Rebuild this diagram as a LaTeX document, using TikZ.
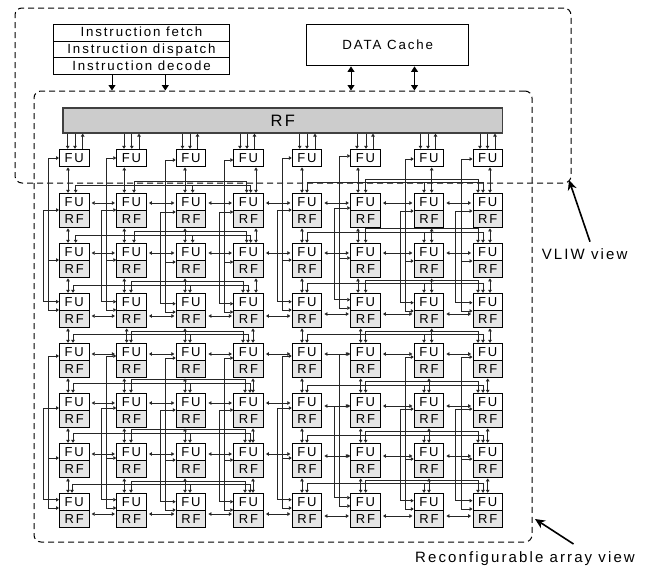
\documentclass[tikz,border=0pt]{standalone}
\usepackage{fontspec}
\setmainfont{Liberation Sans}
\newfontfamily\spaced[LetterSpace=14]{Liberation Sans}
\usetikzlibrary{arrows.meta,calc}
\tikzset{
  x=1pt,y=-1pt,
  cell/.style={draw=black,line width=1pt,rectangle,inner sep=0pt,minimum width=29.5pt,minimum height=17pt,text height=9.3pt,text depth=0pt,font=\spaced\fontsize{13}{14}\selectfont},
  rfcell/.style={cell,fill=black!10},
  headbox/.style={draw=black,line width=1pt,rectangle,inner sep=0pt,text height=9.8pt,text depth=2pt,font=\spaced\fontsize{13.3}{14}\selectfont},
  view/.style={draw=black,line width=1pt,dash pattern=on 6pt off 4pt,rounded corners=7pt},
  wire/.style={draw=black!85,line width=.8pt,{Triangle[length=3pt,width=3.6pt]}-{Triangle[length=3pt,width=3.6pt]}},
  tip/.style={draw=black!85,line width=.8pt,-{Triangle[length=3pt,width=3.6pt]}},
  bigtip/.style={draw=black,line width=1pt,-{Triangle[length=5.5pt,width=7pt]}},
  bigdbl/.style={draw=black,line width=1pt,{Triangle[length=5.5pt,width=7pt]}-{Triangle[length=5.5pt,width=7pt]}},
  pointer/.style={draw=black,line width=1.6pt,-{Stealth[length=10pt,width=9pt]}},
  label/.style={inner sep=0pt,font=\spaced\fontsize{15}{17}\selectfont},
}
\newcommand\busgap[9]{%
  % #1 row, #2 y1, #3 y2, #4..#8 tee x positions, #9 first column
  \pgfmathtruncatemacro\ca{#9}\pgfmathtruncatemacro\cb{#9+1}\pgfmathtruncatemacro\cc{#9+2}\pgfmathtruncatemacro\cd{#9+3}
  \draw[wire] (F\ca#1.north -| #4,0) -- (#4,#2) -- (#8,#2) -- (F\cd#1.north -| #8,0);
  \draw[wire] (F\cb#1.north -| #5,0) -- (#5,#3) -- (#7,#3) -- (F\cd#1.north -| #7,0);
  \draw[tip] (#6,#2) -- (F\cc#1.north -| #6,0);
}
\begin{document}
\begin{tikzpicture}
\useasboundingbox (0,0) rectangle (656,570);
% grid of cells
\foreach \c/\x in {1/74.25,2/131.5,3/191,4/248.5,5/307,6/365.5,7/429,8/487.75}{
  \node[cell,alias=B\c0] (F\c0) at (\x,157.8) {FU};
  \foreach \r/\y in {1/193.3,2/243.3,3/293.3,4/343.3,5/393.3,6/443.3,7/493.3}{
    \node[cell] (F\c\r) at (\x,\y+8.5) {FU};
    \node[rfcell,alias=B\c\r] (R\c\r) at (\x,\y+25.5) {RF};
  }
}
% header
\node[headbox,minimum width=176pt,minimum height=16.7pt] (fetch) at (141.5,32.8) {Instruction fetch};
\node[headbox,minimum width=176pt,minimum height=16.7pt] (dispatch) at (141.5,49.5) {Instruction dispatch};
\node[headbox,minimum width=176pt,minimum height=16.7pt] (decode) at (141.5,66.2) {Instruction decode};
\node[headbox,minimum width=161.5pt,minimum height=41.5pt] (cache) at (387.7,45.2) {DATA Cache};
\node[draw=black!75,line width=1.2pt,fill=black!20,rectangle,inner sep=0pt,minimum width=439.5pt,minimum height=25pt,font=\spaced\fontsize{16.5}{18}\selectfont] (rf) at (282.7,120.5) {RF};
% views
\node[view,minimum width=556pt,minimum height=175pt,inner sep=0pt,rectangle] (vliw) at (293,95.5) {};
\node[view,minimum width=498pt,minimum height=451pt,inner sep=0pt,rectangle] (array) at (283,316.5) {};
% header links
\foreach \x in {112,165.3}{\draw[bigtip] (decode.south -| \x,0) -- (array.north -| \x,0);}
\foreach \x in {351,414.5}{\draw[bigdbl] (cache.south -| \x,0) -- (array.north -| \x,0);}
% RF to FU
\foreach \c/\a/\b/\u in {1/67.7/75/82.7,2/124/131.8/139,3/182.5/190/197.5,4/240/247/254.5,5/299.7/307/315,6/357/366/373,7/420.5/428/435.5,8/480/487.5/495}{
  \draw[tip] (rf.south -| \a,0) -- (F\c0.north -| \a,0);
  \draw[tip] (rf.south -| \b,0) -- (F\c0.north -| \b,0);
  \draw[tip] (F\c0.north -| \u,0) -- (rf.south -| \u,0);
}
% vertical links between rows
\foreach \r/\xa/\xb/\xc/\xd/\xe/\xf/\xg/\xh in {
 1/68/124.3/185/256/302/358/431.7/490,
 2/68/124.3/185/256/302/358/431.7/490,
 3/68/124.3/185/256/302/358/431.7/490,
 4/68/126.7/185/253/302/360.7/431.7/490,
 5/68/124.3/185/253/302/360.7/429/487.7,
 6/68/124.3/185/253/302/360.7/429/487.7,
 7/68/124.3/185/253/302/360.7/429/487.7}{
  \pgfmathtruncatemacro\p{\r-1}
  \foreach \c/\x in {1/\xa,2/\xb,3/\xc,4/\xd,5/\xe,6/\xf,7/\xg,8/\xh}{
    \draw[wire,shorten <=.6pt] (B\c\p.south -| \x,0) -- (F\c\r.north -| \x,0);
  }
}
% buses in the gaps
\busgap{1}{185}{181.7}{75.7}{134}{192.7}{246.7}{250.7}{1}
\busgap{2}{235}{231}{75.7}{134}{192.7}{246.7}{250.7}{1}
\busgap{3}{285}{281}{73}{131}{190}{243}{248}{1}
\busgap{4}{334}{331}{73}{131}{190}{243}{248}{1}
\busgap{5}{383}{379}{73}{131}{190}{245}{250}{1}
\busgap{6}{433}{429}{73}{131}{190}{245}{250}{1}
\busgap{7}{484}{481}{72}{131}{190}{245}{250}{1}
\busgap{1}{182.7}{179}{307}{365.7}{424}{478}{483}{5}
\busgap{2}{232.7}{228}{307}{365.7}{424}{478}{483}{5}
\busgap{3}{283}{280}{307}{365.7}{424}{478}{483}{5}
\busgap{4}{334.7}{331}{307}{365.7}{424}{478}{483}{5}
\busgap{5}{385}{381.7}{307}{365.7}{424}{478}{483}{5}
\busgap{6}{435}{431}{307}{365.7}{424}{478}{483}{5}
\busgap{7}{483}{480}{307}{365.7}{424}{478}{483}{5}
% long wires left of each column
\foreach \c/\xo/\xi/\o in {1/48.3/43.3/0,2/106.7/101.7/0,3/165.7/160.7/2,4/224/219/2,5/282.3/277/0,6/339/334/-2,7/405/400/1,8/461/455.7/1}{
  \foreach \t/\d/\ra/\rb/\rc in {0/0/0/2/3,1/198/4/6/7}{
    \pgfmathsetmacro\ya{158+\o+\d}\pgfmathsetmacro\yb{260+\o+\d}\pgfmathsetmacro\yc{310+\o+\d}
    \pgfmathsetmacro\yd{210+\o+\d}\pgfmathsetmacro\ye{301.7+\o+\d}
    \pgfmathtruncatemacro\rd{\ra+1}
    \draw[wire] (F\c\ra.west |- 0,\ya) -- (\xo,\ya) -- (\xo,\yc) -- (F\c\rc.west |- 0,\yc);
    \draw[tip] (\xo,\yb) -- (F\c\rb.west |- 0,\yb);
    \draw[wire] (F\c\rd.west |- 0,\yd) -- (\xi,\yd) -- (\xi,\ye) -- (F\c\rc.west |- 0,\ye);
  }
}
% horizontal links between columns
\foreach \r/\yl/\yr in {1/203/203,2/253/253,3/316/314,4/354/354,5/403/406,6/454/456,7/514/516}{
  \foreach \c/\d/\y in {1/2/\yl,2/3/\yl,3/4/\yl,4/5/\yl,5/6/\yr,6/7/\yr,7/8/\yr}{
    \draw[wire,shorten <=2.2pt,shorten >=1.4pt] (F\c\r.east |- 0,\y) -- (F\d\r.west |- 0,\y);
  }
}
% pointers
\coordinate (vtail) at (590,241.7);
\coordinate (vhead) at (569,180);
\draw[pointer] (vtail) -- (vhead);
\coordinate (atail) at (573.5,544);
\coordinate (ahead) at (535,519);
\draw[pointer] (atail) -- (ahead);
\node[label,anchor=west] (vlabel) at (541.7,254) {VLIW view};
\node[label,anchor=west] (alabel) at (415,559) {Reconfigurable array view};
\end{tikzpicture}
\end{document}
